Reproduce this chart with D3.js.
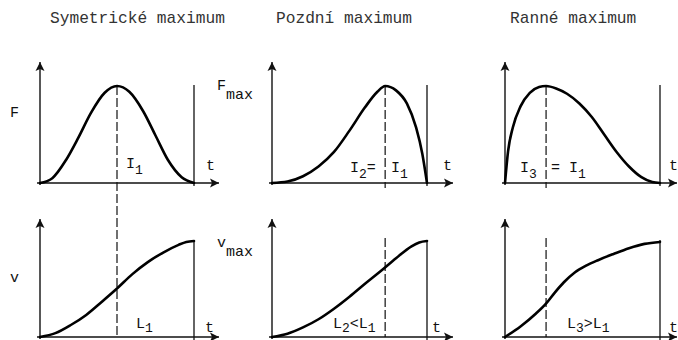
<!DOCTYPE html>
<html>
<head>
<meta charset="utf-8">
<script src="https://cdn.jsdelivr.net/npm/d3@7"></script>
<style>
  html, body { margin: 0; padding: 0; background: #fff; }
  svg { display: block; }
  text { font-family: "Courier New", "Liberation Mono", monospace; fill: #111; }
  .title { font-size: 16.2px; fill: #333; }
  .lab { font-size: 15px; }
  .sub { font-size: 13px; }
</style>
</head>
<body>
<svg id="chart" width="678" height="340"></svg>
<script>
// Panel titles (three force-curve shapes)
const titles = ["Symetrické maximum", "Pozdní maximum", "Ranné maximum"];

// Force F(t), normalised time 0..1 and force 0..Fmax(=1)
const forceSym   = [[0,0],[0.08,0.05],[0.17,0.24],[0.25,0.47],[0.33,0.72],[0.42,0.93],[0.5,1.0],
                    [0.58,0.94],[0.67,0.74],[0.75,0.49],[0.83,0.24],[0.92,0.06],[1,0]];
const forceLate  = [[0,0],[0.1,0.015],[0.2,0.07],[0.3,0.17],[0.4,0.32],[0.5,0.54],[0.6,0.78],
                    [0.68,0.94],[0.73,1.0],[0.8,0.955],[0.87,0.82],[0.93,0.57],[0.97,0.3],[1,0]];
const forceEarly = [[0,0],[0.02,0.33],[0.05,0.57],[0.1,0.79],[0.16,0.93],[0.22,0.99],[0.265,1.0],
                    [0.33,0.975],[0.4,0.92],[0.48,0.82],[0.56,0.68],[0.64,0.5],[0.72,0.32],
                    [0.8,0.17],[0.88,0.06],[0.95,0.01],[1,0]];

// Velocity v(t), normalised to vmax = 1
const velSym   = [[0,0],[0.1,0.04],[0.2,0.125],[0.3,0.23],[0.4,0.365],[0.5,0.505],[0.6,0.655],
                  [0.7,0.78],[0.8,0.88],[0.9,0.96],[0.95,0.99],[1,1]];
const velLate  = [[0,0],[0.1,0.035],[0.2,0.1],[0.3,0.185],[0.4,0.295],[0.5,0.42],[0.6,0.555],
                  [0.7,0.685],[0.8,0.82],[0.9,0.945],[0.95,0.985],[1,1]];
const velEarly = [[0,0],[0.1,0.11],[0.2,0.245],[0.263,0.345],[0.32,0.46],[0.38,0.57],[0.45,0.672],
                  [0.52,0.74],[0.6,0.8],[0.7,0.865],[0.8,0.925],[0.9,0.97],[1,0.99]];

// Impulse and path labels: [main, subscript] pieces
const impulseLabels = [
  [["I","1"]],
  [["I","2"],["=",""]],
  [["I","1"]],
  [["I","3"]],
  [["= I","1"]]
];
const pathLabels = [
  [["L","1"]],
  [["L","2"],["<L","1"]],
  [["L","3"],[">L","1"]]
];

const forceSets = [forceSym, forceLate, forceEarly];
const velSets = [velSym, velLate, velEarly];

const svg = d3.select("#chart");

// marker for axis arrowheads
const defs = svg.append("defs");
defs.append("marker").attr("id", "arr")
  .attr("viewBox", "-10 -6 12 12").attr("refX", 0).attr("refY", 0)
  .attr("markerWidth", 12).attr("markerHeight", 12).attr("markerUnits", "userSpaceOnUse")
  .attr("orient", "auto")
  .append("path").attr("d", "M-9,-4.5 L0,0 L-9,4.5 L-7,0 Z").attr("fill", "#111");

// layout of the panel columns
const cols = [
  { x0: 40,  x1: 194, titleX: 50,  arrowX: 219 },
  { x0: 272, x1: 427, titleX: 276, arrowX: 453 },
  { x0: 505, x1: 660, titleX: 510, arrowX: 677 }
];
const rows = [
  { base: 183, top: 86,  arrowTop: 62 },
  { base: 337, top: 241, arrowTop: 219 }
];

const line = (xs, ys) => d3.line()
  .x(d => xs(d[0])).y(d => ys(d[1]))
  .curve(d3.curveMonotoneX);

// titles
cols.forEach((c, i) => {
  svg.append("text").attr("class", "title")
    .attr("x", c.titleX).attr("y", 23).text(titles[i]);
});

const peakT = forceSets.map(s => s.reduce((a, b) => b[1] > a[1] ? b : a)[0]);

function axes(c, r) {
  const g = svg.append("g");
  g.append("line").attr("x1", c.x0).attr("x2", c.x0)
    .attr("y1", r.base + 2).attr("y2", r.arrowTop)
    .attr("stroke", "#111").attr("stroke-width", 1.4).attr("marker-end", "url(#arr)");
  g.append("line").attr("x1", c.x0 - 3).attr("x2", c.arrowX)
    .attr("y1", r.base).attr("y2", r.base)
    .attr("stroke", "#111").attr("stroke-width", 1.4).attr("marker-end", "url(#arr)");
  // end-of-movement line
  g.append("line").attr("x1", c.x1).attr("x2", c.x1)
    .attr("y1", r.top - 1).attr("y2", r.base + 3)
    .attr("stroke", "#111").attr("stroke-width", 1.3);
}

cols.forEach((c, i) => {
  const xs = d3.scaleLinear().domain([0, 1]).range([c.x0, c.x1]);
  const yF = d3.scaleLinear().domain([0, 1]).range([rows[0].base, rows[0].top]);
  const yV = d3.scaleLinear().domain([0, 1]).range([rows[1].base, rows[1].top]);

  axes(c, rows[0]);
  axes(c, rows[1]);

  // dashed line through the force peak
  const px = xs(peakT[i]);
  if (i === 0) {
    svg.append("line").attr("x1", px).attr("x2", px).attr("y1", yF(1)).attr("y2", rows[1].base)
      .attr("stroke", "#111").attr("stroke-width", 1.2).attr("stroke-dasharray", "9,3");
  } else {
    svg.append("line").attr("x1", px).attr("x2", px).attr("y1", yF(1)).attr("y2", rows[0].base + 5)
      .attr("stroke", "#111").attr("stroke-width", 1.2).attr("stroke-dasharray", "9,3");
    svg.append("line").attr("x1", px).attr("x2", px).attr("y1", rows[1].top - 3).attr("y2", rows[1].base)
      .attr("stroke", "#111").attr("stroke-width", 1.2).attr("stroke-dasharray", "9,3");
  }

  svg.append("path").datum(forceSets[i]).attr("d", line(xs, yF))
    .attr("fill", "none").attr("stroke", "#000").attr("stroke-width", 2.6)
    .attr("stroke-linecap", "round");
  svg.append("path").datum(velSets[i]).attr("d", line(xs, yV))
    .attr("fill", "none").attr("stroke", "#000").attr("stroke-width", 2.6)
    .attr("stroke-linecap", "round");
});

// text helper: pieces of [main, subscript]; the baseline shift of a
// subscript is undone on the next piece
function label(x, y, pieces, dy) {
  const d = dy || 6;
  const t = svg.append("text").attr("class", "lab").attr("x", x).attr("y", y);
  let shift = 0;
  pieces.forEach(p => {
    t.append("tspan").attr("dy", -shift).text(p[0]);
    shift = 0;
    if (p[1]) {
      t.append("tspan").attr("class", "sub").attr("dy", d).text(p[1]);
      shift = d;
    }
  });
  return t;
}

// axis names
label(10, 117, [["F", ""]]);
label(10, 282, [["v", ""]]);
label(217, 90, [["F", ""]]);
svg.append("text").attr("class", "lab").attr("x", 226).attr("y", 99).text("max");
label(217, 247, [["v", ""]]);
svg.append("text").attr("class", "lab").attr("x", 226).attr("y", 256).text("max");

// time labels
[[206, 170], [443, 170], [669, 170]].forEach(p => label(p[0], p[1], [["t", ""]]));
[[205, 332], [432, 332], [669, 332]].forEach(p => label(p[0], p[1], [["t", ""]]));

// impulse labels
label(126, 168, impulseLabels[0]);
label(350, 172, impulseLabels[1]);
label(391, 172, impulseLabels[2]);
label(520, 172, impulseLabels[3]);
label(551, 172, impulseLabels[4]);

// path labels
label(136, 328, pathLabels[0], 4);
label(333, 328, pathLabels[1], 4);
label(567, 328, pathLabels[2], 4);
</script>
</body>
</html>
